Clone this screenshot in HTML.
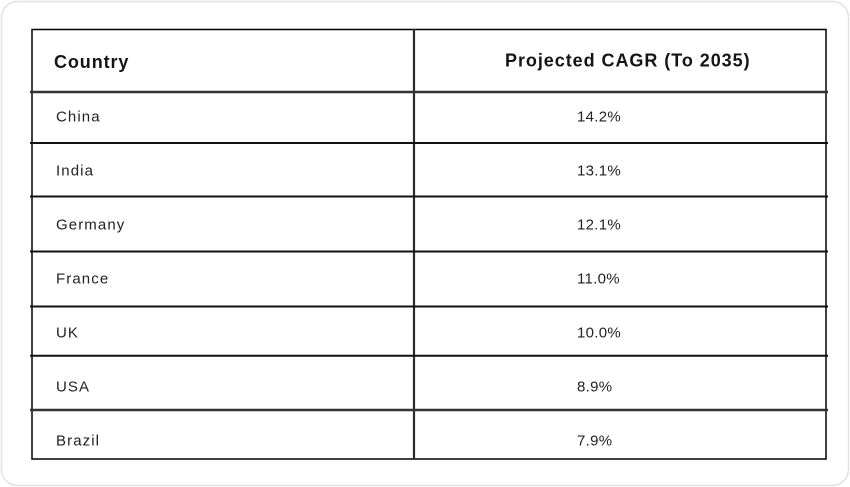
<!DOCTYPE html>
<html><head><meta charset="utf-8"><style>
html,body{margin:0;padding:0;background:#fff;}
svg{display:block;}
text{font-family:"Liberation Sans",sans-serif;}
.h{font-size:18px;font-weight:bold;fill:#151515;}
.b{font-size:15px;fill:#222;letter-spacing:1.1px;}
</style></head><body>
<svg width="850" height="487" viewBox="0 0 850 487" xmlns="http://www.w3.org/2000/svg">
<rect x="1.5" y="1.5" width="847" height="484" rx="16" ry="16" fill="#fff" stroke="#e2e2e2" stroke-width="1.5"/>
<rect x="32" y="29.5" width="794" height="429.5" fill="none" stroke="#000" stroke-width="1.5"/>
<line x1="414" y1="29" x2="414" y2="459" stroke="#2a2a2a" stroke-width="2.2"/>
<g stroke="#111" stroke-width="2">
<line x1="30" y1="92" x2="828" y2="92" stroke="#333" stroke-width="2.4"/>
<line x1="30" y1="143" x2="828" y2="143"/>
<line x1="30" y1="196.5" x2="828" y2="196.5"/>
<line x1="30" y1="251.5" x2="828" y2="251.5"/>
<line x1="30" y1="306.5" x2="828" y2="306.5"/>
<line x1="30" y1="355.7" x2="828" y2="355.7"/>
<line x1="30" y1="410" x2="828" y2="410" stroke="#333" stroke-width="2.4"/>
</g>
<text class="h" x="54" y="68" style="letter-spacing:0.9px">Country</text>
<text class="h" x="505" y="66.5" style="letter-spacing:0.95px">Projected CAGR (To 2035)</text>
<g class="b">
<text x="56" y="121.5">China</text>
<text x="56" y="175.5">India</text>
<text x="56" y="229.5">Germany</text>
<text x="56" y="283.5">France</text>
<text x="56" y="337.5">UK</text>
<text x="56" y="391.5">USA</text>
<text x="56" y="445.5">Brazil</text>
</g>
<g class="b" style="letter-spacing:0.3px">
<text x="577" y="121.5">14.2%</text>
<text x="577" y="175.5">13.1%</text>
<text x="577" y="229.5">12.1%</text>
<text x="577" y="283.5">11.0%</text>
<text x="577" y="337.5">10.0%</text>
<text x="577" y="391.5">8.9%</text>
<text x="577" y="445.5">7.9%</text>
</g>
</svg>
</body></html>
